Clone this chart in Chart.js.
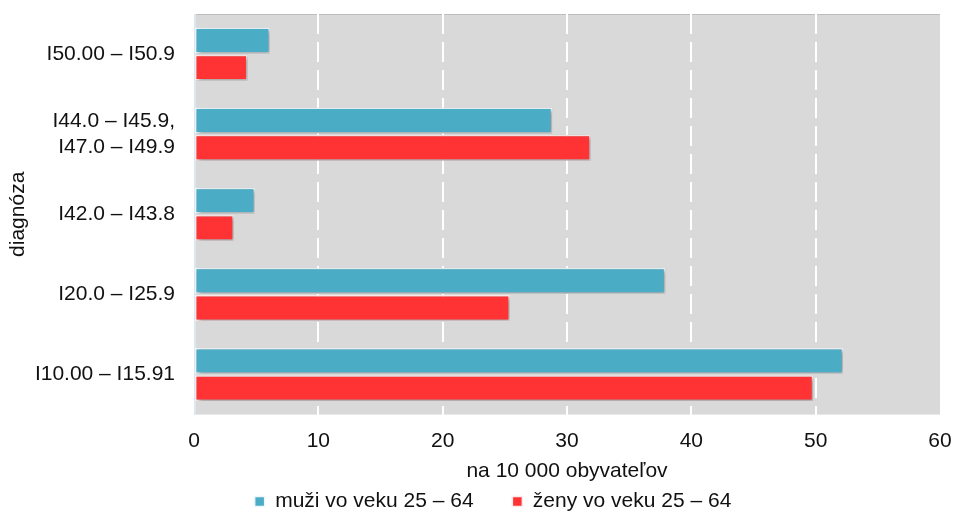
<!DOCTYPE html>
<html>
<head>
<meta charset="utf-8">
<script src="https://cdn.jsdelivr.net/npm/chart.js@4/dist/chart.umd.min.js"></script>
<style>
  html, body { margin: 0; padding: 0; background: #fff; }
  #wrap { width: 954px; height: 515px; }
</style>
</head>
<body>
<div id="wrap"><canvas id="graf"></canvas></div>
<script>
const diagnozy = ['I50.00 – I50.9', ['I44.0 – I45.9,', 'I47.0 – I49.9'], 'I42.0 – I43.8', 'I20.0 – I25.9', 'I10.00 – I15.91'];
const muzi = [6.1, 28.8, 4.9, 37.9, 52.2];
const zeny = [4.3, 31.9, 3.2, 25.4, 49.8];
const osX = [0, 10, 20, 30, 40, 50, 60];

const pismo = { family: 'Liberation Sans, Arial', size: 21 };

const pozadie = {
    id: 'pozadie',
    beforeDraw(chart) {
        const { ctx, chartArea: a } = chart;
        ctx.save();
        ctx.fillStyle = '#d9d9d9';
        ctx.fillRect(a.left, a.top, a.right - a.left, a.bottom - a.top);
        ctx.strokeStyle = '#bdbdbd';
        ctx.lineWidth = 1;
        ctx.beginPath();
        ctx.moveTo(a.left, a.top + 0.5);
        ctx.lineTo(a.right, a.top + 0.5);
        ctx.stroke();
        ctx.strokeStyle = '#dbe8f2';
        ctx.lineWidth = 2;
        ctx.beginPath();
        ctx.moveTo(a.left + 1, a.top);
        ctx.lineTo(a.left + 1, a.bottom);
        ctx.stroke();
        ctx.restore();
    }
};

const tien = {
    id: 'tien',
    beforeDatasetsDraw(chart) {
        chart.ctx.save();
        chart.ctx.shadowColor = 'rgba(0,0,0,0.35)';
        chart.ctx.shadowBlur = 4;
        chart.ctx.shadowOffsetX = 2;
        chart.ctx.shadowOffsetY = 2;
    },
    afterDatasetsDraw(chart) {
        chart.ctx.restore();
    }
};

// legenda je v originali posunuta trochu doprava
const posunLegendy = {
    id: 'posunLegendy',
    afterLayout(chart) {
        chart.legend.left += 23;
        chart.legend.right += 23;
    }
};

new Chart(document.getElementById('graf').getContext('2d'), {
    type: 'bar',
    data: {
        labels: diagnozy,
        datasets: [
            {
                label: 'muži vo veku 25 – 64',
                data: muzi,
                backgroundColor: '#4bacc6',
                borderColor: '#eef6fa',
                borderWidth: 1.5,
                borderSkipped: false,
                barPercentage: 0.95,
                categoryPercentage: 0.68
            },
            {
                label: 'ženy vo veku 25 – 64',
                data: zeny,
                backgroundColor: '#ff3333',
                borderColor: '#fbeaea',
                borderWidth: 1.5,
                borderSkipped: false,
                barPercentage: 0.95,
                categoryPercentage: 0.68
            }
        ]
    },
    options: {
        indexAxis: 'y',
        responsive: true,
        maintainAspectRatio: false,
        animation: false,
        layout: { padding: { left: 0, right: 14, top: 14, bottom: -7 } },
        plugins: {
            legend: {
                position: 'bottom',
                labels: {
                    font: pismo,
                    color: '#111',
                    boxWidth: 10,
                    boxHeight: 10,
                    padding: 2,
                    generateLabels(chart) {
                        const items = Chart.defaults.plugins.legend.labels.generateLabels(chart);
                        items[0].text += '\u2003\u2002\u2005';
                        return items;
                    }
                }
            },
            tooltip: { enabled: false }
        },
        scales: {
            x: {
                min: 0,
                max: 60,
                afterBuildTicks(ax) { ax.ticks = osX.map(v => ({ value: v })); },
                afterFit(ax) {
                    ax.paddingLeft = 0;
                    ax.paddingRight = 0;
                    ax.height -= 14;
                },
                grid: {
                    color: c => (c.tick.value > 0 && c.tick.value < 60) ? '#ffffff' : 'rgba(0,0,0,0)',
                    lineWidth: 2,
                    drawTicks: false,
                    borderDash: [20, 8]
                },
                border: { display: false, dash: [20, 8] },
                ticks: {
                    font: pismo,
                    color: '#111',
                    padding: 14,
                    maxRotation: 0
                },
                title: {
                    display: true,
                    text: 'na 10 000 obyvateľov',
                    font: pismo,
                    color: '#111',
                    padding: { top: 5, bottom: 5 }
                }
            },
            y: {
                grid: { display: false },
                border: { display: false },
                ticks: {
                    font: pismo,
                    color: '#111',
                    padding: 11
                },
                title: {
                    display: true,
                    text: 'diagnóza',
                    font: pismo,
                    color: '#111',
                    padding: { top: 6, bottom: 4 }
                },
                afterFit(ax) {
                    ax.width = 194;
                    ax.paddingTop = 0;
                    ax.paddingBottom = 0;
                }
            }
        }
    },
    plugins: [pozadie, tien, posunLegendy]
});
</script>
</body>
</html>
